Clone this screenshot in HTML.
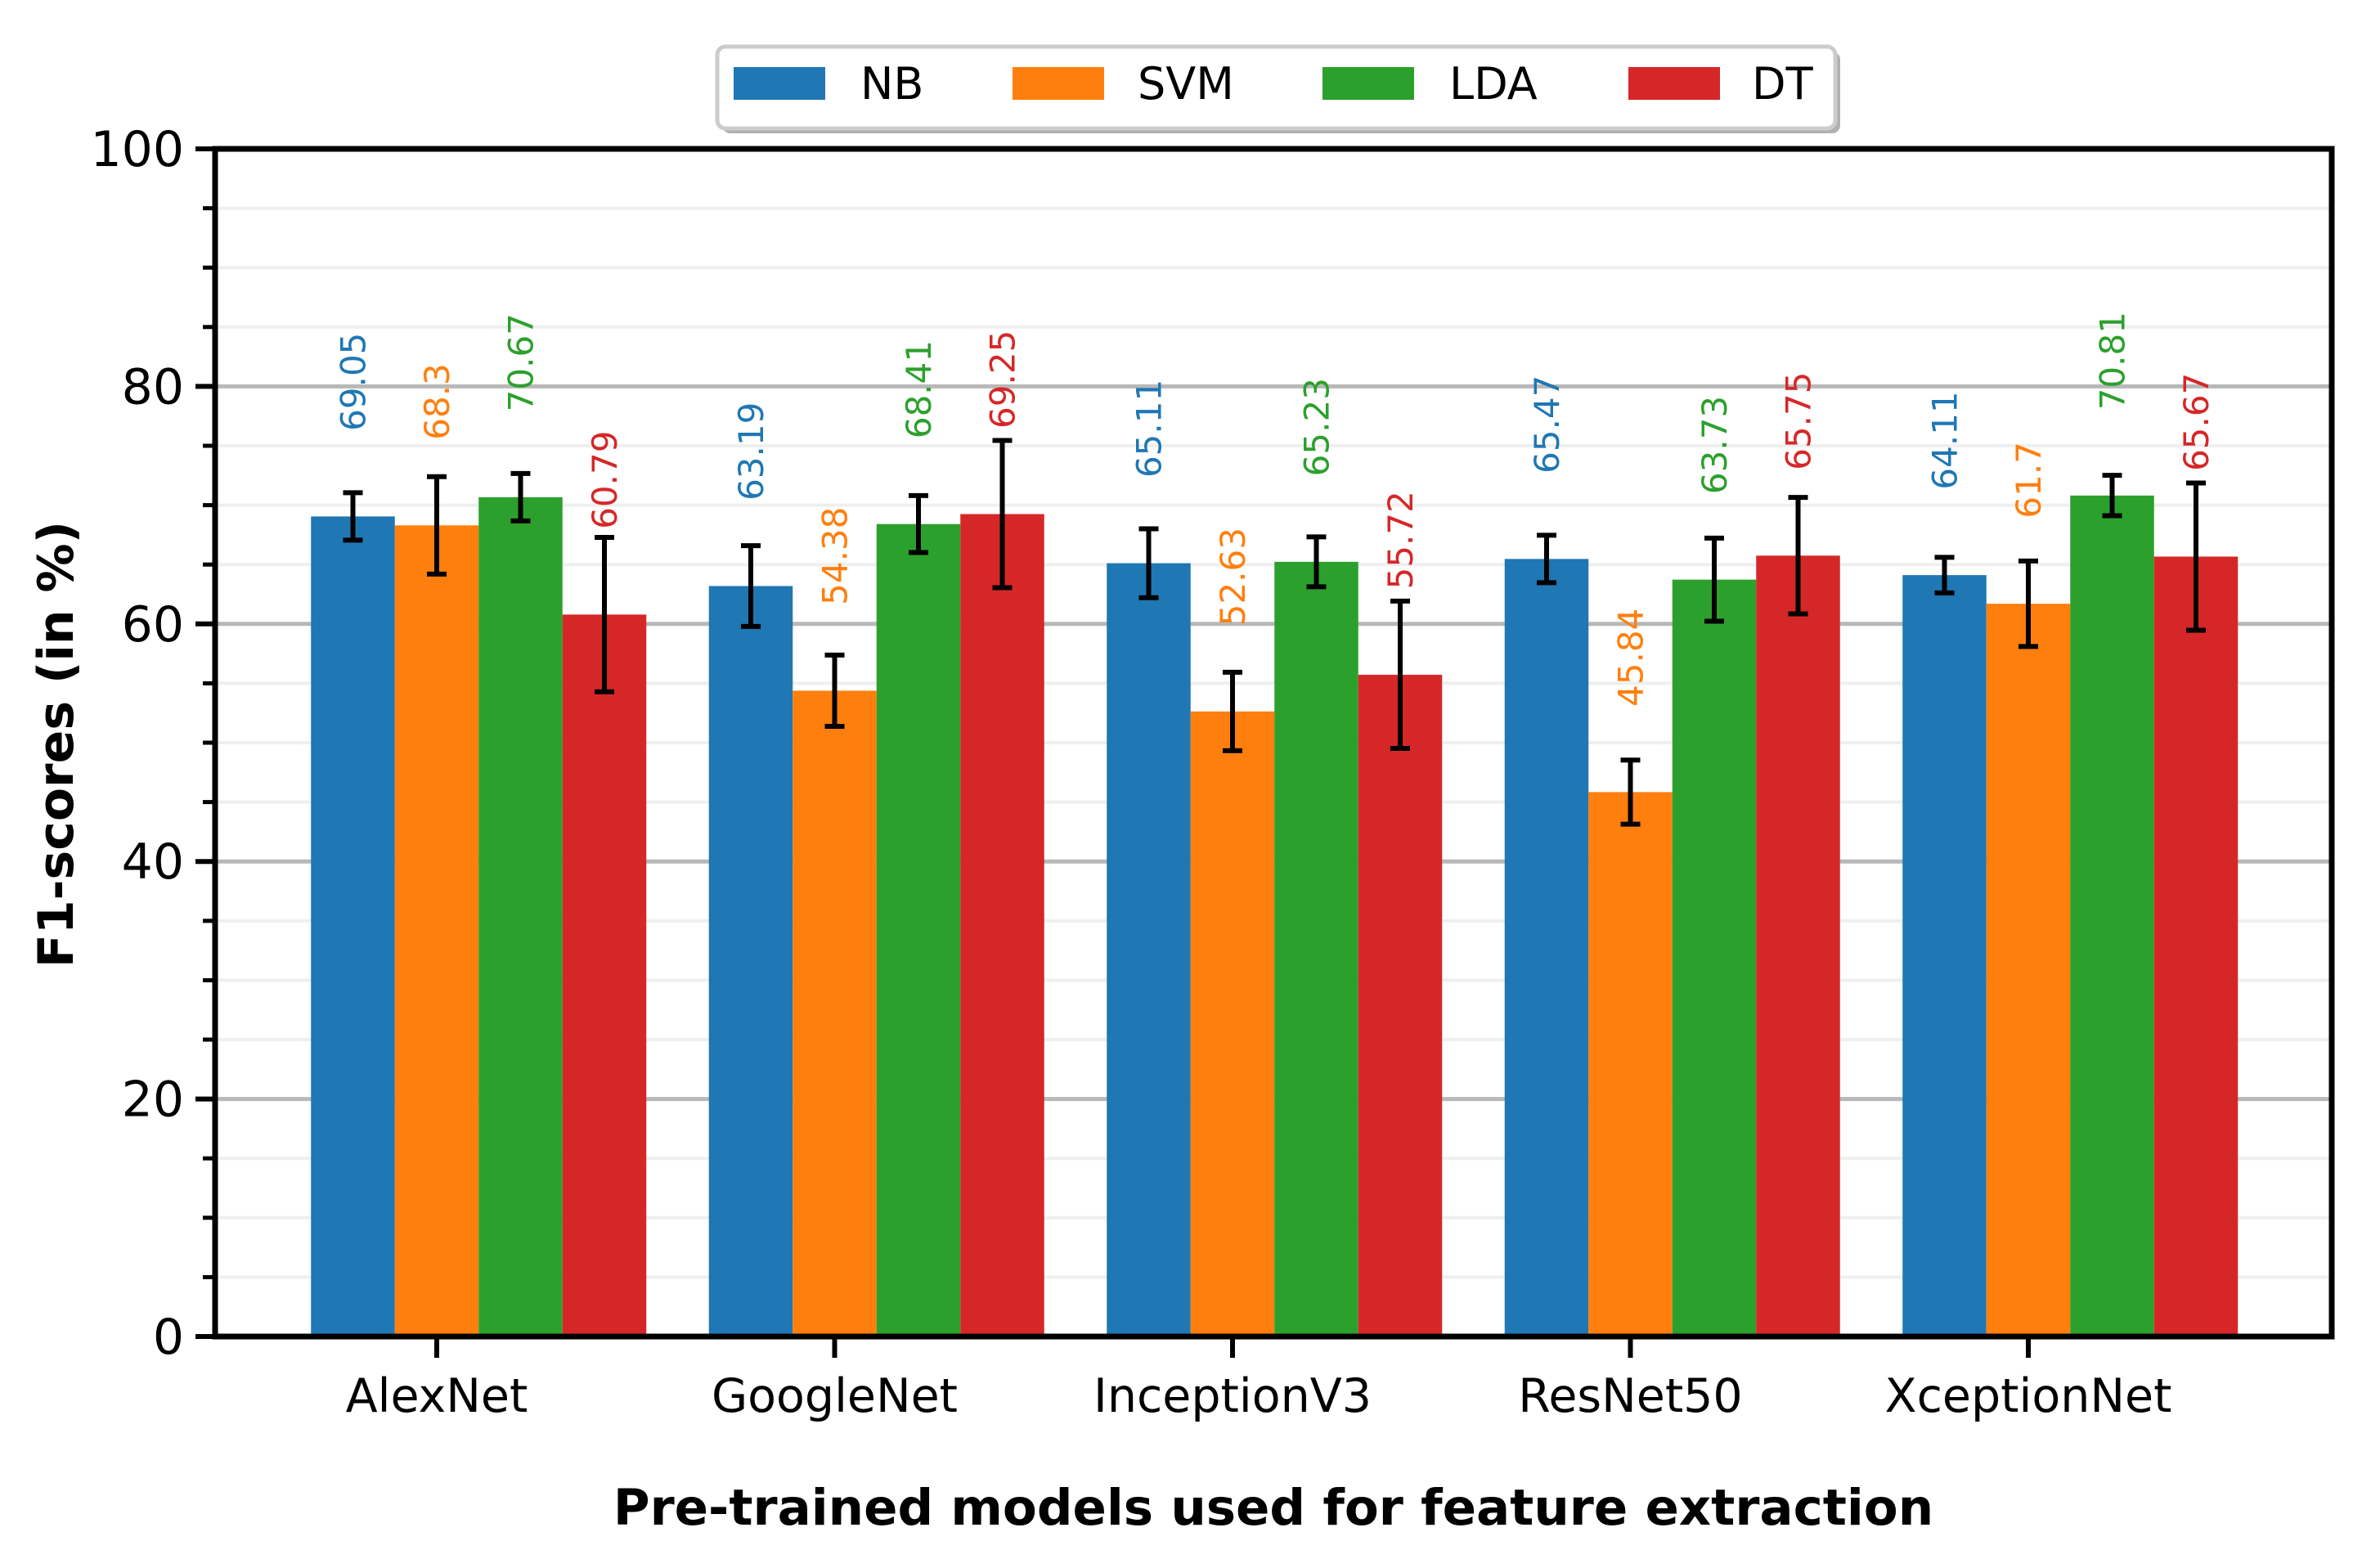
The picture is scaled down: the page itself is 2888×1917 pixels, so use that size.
<!DOCTYPE html>
<html><head><meta charset="utf-8">
<style>
html,body{margin:0;padding:0;background:#fff;}
svg{display:block;font-family:"DejaVu Sans","Liberation Sans",sans-serif;}
</style></head>
<body>
<svg id="chart" width="2888" height="1917" viewBox="0 0 2888 1917" xmlns="http://www.w3.org/2000/svg">
<rect x="0" y="0" width="2888" height="1917" fill="#fff"/>
<g id="grid"></g>
<g id="bars"></g>
<g id="axes"></g>
<text x="1557" y="1864" text-anchor="middle" font-size="61" font-weight="bold">Pre-trained models used for feature extraction</text>
<text transform="translate(89,910) rotate(-90)" text-anchor="middle" font-size="60" font-weight="bold">F1-scores (in %)</text>
<g id="legend">
<rect x="883" y="63" width="1367" height="100" rx="10" fill="#b0b0b0"/>
<rect x="877" y="57" width="1367" height="100" rx="10" fill="#fff" stroke="#cccccc" stroke-width="5"/>
</g>
</svg>
<script>
const categories = ["AlexNet","GoogleNet","InceptionV3","ResNet50","XceptionNet"];
const seriesNames = ["NB","SVM","LDA","DT"];
const colors = ["#1f77b4","#ff7f0e","#2ca02c","#d62728"];
const nbValues = [69.05,63.19,65.11,65.47,64.11];
const svmValues = [68.3,54.38,52.63,45.84,61.7];
const ldaValues = [70.67,68.41,65.23,63.73,70.81];
const dtValues = [60.79,69.25,55.72,65.75,65.67];
const nbErr = [2.0,3.4,2.9,2.0,1.5];
const svmErr = [4.1,3.0,3.3,2.7,3.6];
const ldaErr = [2.0,2.4,2.1,3.5,1.7];
const dtErr = [6.5,6.2,6.2,4.9,6.2];
const yTicks = [0,20,40,60,80,100];

const NS = "http://www.w3.org/2000/svg";
const L = 263, R = 2851, T = 182, B = 1634;
const yMin = 0, yMax = 100;
function yS(v){ return B - (v - yMin) / (yMax - yMin) * (B - T); }
const groupStart = 534, groupStep = 486.5;
function xS(i){ return groupStart + i * groupStep; }
const barW = 102.5;
function mk(tag, attrs, parent){
  const e = document.createElementNS(NS, tag);
  for (const k in attrs) e.setAttribute(k, attrs[k]);
  parent.appendChild(e);
  return e;
}
const grid = document.getElementById('grid');
const bars = document.getElementById('bars');
const axes = document.getElementById('axes');
const legend = document.getElementById('legend');

for (let v = 5; v < 100; v += 5) {
  const major = v % 20 === 0;
  const ln = mk('line', {x1:L, x2:R, y1:yS(v), y2:yS(v), stroke: major ? '#b8b8b8' : '#efefef', 'stroke-width': major ? 5 : 4}, grid);
  
  
}

const values = [nbValues, svmValues, ldaValues, dtValues];
const errs = [nbErr, svmErr, ldaErr, dtErr];
for (let s = 0; s < 4; s++) {
  for (let i = 0; i < categories.length; i++) {
    const cx = xS(i) + (s - 1) * barW;
    const v = values[s][i];
    const r = mk('rect', {x: cx - barW/2, y: yS(v), width: barW, height: B - yS(v), fill: colors[s]}, bars);
    
    
    const e = errs[s][i];
    const g = mk('g', {stroke:'#000', 'stroke-width':6}, bars);
    
    
    mk('line', {x1:cx, x2:cx, y1:yS(v+e), y2:yS(v-e)}, g);
    mk('line', {x1:cx-12, x2:cx+12, y1:yS(v+e), y2:yS(v+e)}, g);
    mk('line', {x1:cx-12, x2:cx+12, y1:yS(v-e), y2:yS(v-e)}, g);
    const ly = yS(v + 7.2);
    const t = mk('text', {transform:'translate(' + (cx + 15) + ',' + ly + ') rotate(-90)', 'font-size':42, fill: colors[s]}, bars);
    t.textContent = String(v);
    
    
  }
}

const frame = mk('rect', {x:L, y:T, width:R-L, height:B-T, fill:'none', stroke:'#000', 'stroke-width':7}, axes);


for (let v = 0; v <= 100; v += 5) {
  const major = v % 20 === 0;
  const tk = mk('line', {x1: L - (major ? 24 : 15), x2: L, y1: yS(v), y2: yS(v), stroke:'#000', 'stroke-width': major ? 6 : 5}, axes);
  
  
}
yTicks.forEach(v => {
  const t = mk('text', {x: L - 38, y: yS(v) + 21, 'text-anchor':'end', 'font-size':60}, axes);
  t.textContent = String(v);
  
  
});
categories.forEach((c, i) => {
  const tk = mk('line', {x1:xS(i), x2:xS(i), y1:B, y2:B+26, stroke:'#000', 'stroke-width':6}, axes);
  
  
  const t = mk('text', {x:xS(i), y:1726, 'text-anchor':'middle', 'font-size':57}, axes);
  t.textContent = c;
  
  
});

const legPatchX = [897, 1238, 1617, 1991];
const legTextX = [1052, 1391, 1772, 2142];
seriesNames.forEach((n, s) => {
  const p = mk('rect', {x:legPatchX[s], y:82, width:112, height:40, fill:colors[s]}, legend);
  
  
  const t = mk('text', {x:legTextX[s], y:121, 'font-size':54}, legend);
  t.textContent = n;
  
  
});
</script>
</body></html>
